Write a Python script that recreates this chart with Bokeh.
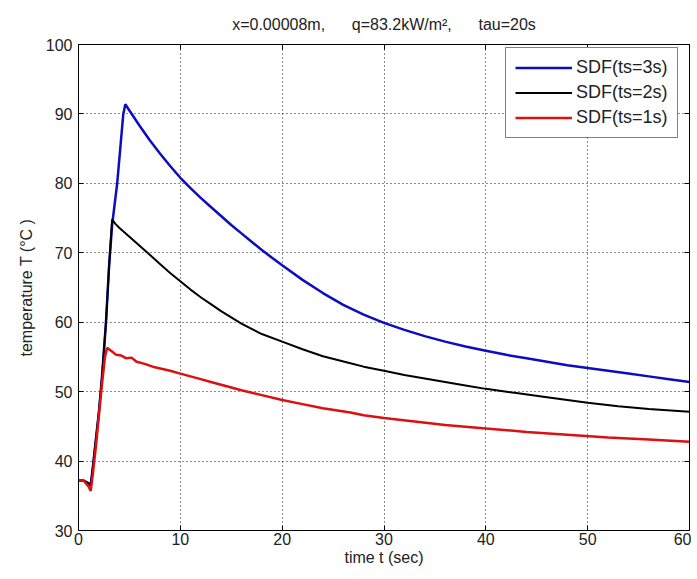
from bokeh.plotting import figure
from bokeh.models import LinearAxis, Range1d, Legend, LegendItem, FixedTicker
from bokeh.embed import file_html
from bokeh.resources import INLINE

# ---- data ----
t_ts3 = [0, 0.5, 1.0, 1.2, 1.4, 1.7, 2.0, 2.3, 2.7, 3.0, 3.3, 3.8, 4.1, 4.4, 4.6,
         5, 6, 7, 8, 9, 10, 11, 12, 13, 14, 15, 16, 17, 18, 19, 20, 22, 24, 26, 28, 30,
         32, 34, 36, 38, 40, 42, 44, 46, 48, 50, 52, 54, 56, 58, 60]
T_ts3 = [37.2, 37.2, 36.8, 36.5, 39, 43, 47, 52, 60, 68, 74, 80, 85, 90, 91.4,
         90.5, 88.3, 86.2, 84.3, 82.5, 80.8, 79.3, 77.9, 76.6, 75.3, 74.0, 72.8, 71.6, 70.4,
         69.3, 68.2, 66.1, 64.2, 62.5, 61.1, 59.9, 58.9, 58.0, 57.2, 56.5, 55.9, 55.3, 54.8,
         54.3, 53.8, 53.4, 53.0, 52.6, 52.2, 51.8, 51.4]

t_ts2 = [0, 0.5, 1.0, 1.2, 1.4, 1.7, 2.0, 2.3, 2.7, 3.0, 3.3, 3.6, 4, 5, 6, 7, 8, 9, 10,
         11, 12, 13, 14, 15, 16, 18, 20, 22, 24, 26.7, 28, 30, 32, 34, 36, 38, 40, 43, 46,
         50, 53, 56, 60]
T_ts2 = [37.2, 37.2, 36.8, 36.5, 39, 43, 47, 52, 60, 68, 74.8, 74.2, 73.6, 72.3, 71.0,
         69.7, 68.4, 67.1, 65.9, 64.7, 63.6, 62.6, 61.6, 60.7, 59.8, 58.3, 57.2, 56.1, 55.1,
         54.1, 53.6, 53.0, 52.4, 51.9, 51.4, 50.9, 50.4, 49.8, 49.2, 48.4, 47.9, 47.5, 47.1]

t_ts1 = [0, 0.5, 1.0, 1.2, 1.4, 1.7, 2.0, 2.3, 2.6, 2.8, 3.2, 3.7, 4.2, 4.7, 5.2, 5.7, 6.5,
         7.5, 9, 10, 11, 12, 13, 14, 15, 16, 18, 20, 22, 24, 26.7, 28, 30, 33, 36, 40, 44,
         48, 52, 56, 60]
T_ts1 = [37.2, 37.2, 36.3, 35.7, 38, 42, 46.5, 51, 55, 56.3, 55.9, 55.3, 55.2, 54.8, 54.9,
         54.3, 54.0, 53.5, 53.0, 52.6, 52.2, 51.8, 51.4, 51.0, 50.6, 50.2, 49.5, 48.8, 48.2,
         47.6, 47.0, 46.6, 46.2, 45.7, 45.2, 44.7, 44.2, 43.8, 43.4, 43.1, 42.8]

labels = ["SDF(ts=3s)", "SDF(ts=2s)", "SDF(ts=1s)"]
colors = ["#0c0cc0", "#000000", "#dd1010"]
x_ticks = [0, 10, 20, 30, 40, 50, 60]
y_ticks = [30, 40, 50, 60, 70, 80, 90, 100]
title_text = ("x=0.00008m,\u00a0\u00a0\u00a0\u00a0\u00a0 q=83.2kW/m\u00b2,"
              "\u00a0\u00a0\u00a0\u00a0\u00a0 tau=20s")

FONT = "Liberation Sans"

p = figure(width=691, height=571, output_backend="svg", toolbar_location=None,
           x_range=Range1d(0, 60), y_range=Range1d(30, 100),
           min_border_left=78, min_border_right=2, min_border_top=44, min_border_bottom=41,
           title=title_text)
p.title.align = "center"
p.title.text_font = FONT
p.title.text_font_size = "16px"
p.title.text_font_style = "normal"
p.title.text_color = "#222222"
p.title.offset = 0
p.title.standoff = 24

p.outline_line_color = "black"
p.outline_line_width = 1
p.background_fill_color = "white"
p.border_fill_color = "white"

for ax in (p.xaxis[0], p.yaxis[0]):
    ax.major_tick_in = 5
    ax.major_tick_out = 0
    ax.minor_tick_in = 0
    ax.minor_tick_out = 0
    ax.axis_line_color = "black"
    ax.major_tick_line_color = "black"
    ax.major_label_text_font = FONT
    ax.major_label_text_font_size = "16px"
    ax.major_label_text_color = "#222222"
    ax.axis_label_text_font = FONT
    ax.axis_label_text_font_size = "16px"
    ax.axis_label_text_font_style = "normal"
    ax.axis_label_text_color = "#222222"

p.xaxis[0].ticker = FixedTicker(ticks=x_ticks)
p.yaxis[0].ticker = FixedTicker(ticks=y_ticks)
p.xaxis[0].axis_label = "time t (sec)"
p.yaxis[0].axis_label = "temperature T (\u00b0C )"
p.xaxis[0].major_label_standoff = 2
p.yaxis[0].major_label_standoff = 6
p.xaxis[0].axis_label_standoff = 1
p.yaxis[0].axis_label_standoff = 8

# mirrored ticks on top and right (no labels)
top = LinearAxis(ticker=FixedTicker(ticks=x_ticks),
                 major_label_overrides={v: "" for v in x_ticks},
                 major_tick_in=5, major_tick_out=0, minor_tick_in=0, minor_tick_out=0,
                 axis_line_color="black", major_tick_line_color="black")
right = LinearAxis(ticker=FixedTicker(ticks=y_ticks),
                   major_label_overrides={v: "" for v in y_ticks},
                   major_tick_in=5, major_tick_out=0, minor_tick_in=0, minor_tick_out=0,
                   axis_line_color="black", major_tick_line_color="black")
p.add_layout(top, "above")
p.add_layout(right, "right")

for g in (p.xgrid[0], p.ygrid[0]):
    g.grid_line_color = "black"
    g.grid_line_dash = "1 3"
    g.grid_line_alpha = 0.9
    g.grid_line_width = 1
p.xgrid[0].ticker = FixedTicker(ticks=x_ticks)
p.ygrid[0].ticker = FixedTicker(ticks=y_ticks)

r3 = p.line(t_ts3, T_ts3, line_color=colors[0], line_width=2.5)
r2 = p.line(t_ts2, T_ts2, line_color=colors[1], line_width=2)
r1 = p.line(t_ts1, T_ts1, line_color=colors[2], line_width=2.5)

legend = Legend(items=[LegendItem(label=labels[0], renderers=[r3]),
                       LegendItem(label=labels[1], renderers=[r2]),
                       LegendItem(label=labels[2], renderers=[r1])],
                location=(427, 392))
legend.margin = 0
legend.padding = 9
legend.spacing = 4
legend.glyph_width = 57
legend.glyph_height = 21
legend.label_height = 21
legend.label_standoff = 4
legend.label_text_font = FONT
legend.label_text_font_size = "18px"
legend.label_text_color = "#222222"
legend.border_line_color = "black"
legend.border_line_width = 1
legend.background_fill_color = "white"
legend.background_fill_alpha = 1
p.add_layout(legend)

open("out.html", "w").write(file_html(p, INLINE))
